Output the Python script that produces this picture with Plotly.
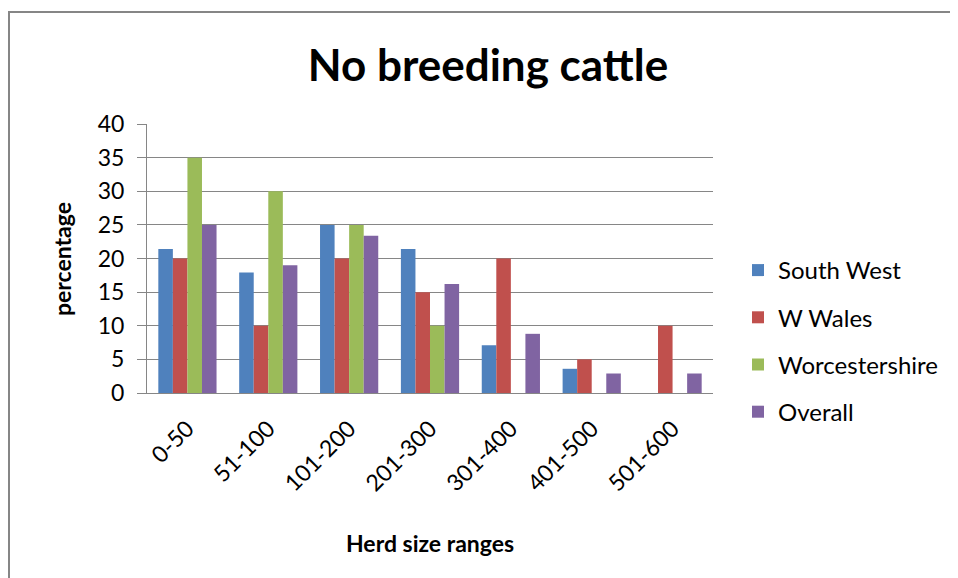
import plotly.graph_objects as go

categories = ["0-50", "51-100", "101-200", "201-300", "301-400", "401-500", "501-600"]
south_west = [21.4, 17.9, 25.0, 21.4, 7.1, 3.6, 0]
w_wales = [20, 10, 20, 15, 20, 5, 10]
worcestershire = [35, 30, 25, 10, 0, 0, 0]
overall = [25, 19, 23.4, 16.2, 8.8, 2.9, 2.9]

series = [
    ("South West", south_west, "#4F81BD"),
    ("W Wales", w_wales, "#C0504D"),
    ("Worcestershire", worcestershire, "#9BBB59"),
    ("Overall", overall, "#8064A2"),
]

FONT = "Lato"
fig = go.Figure()
for i, (name, vals, col) in enumerate(series):
    fig.add_trace(go.Bar(x=categories, y=vals, name=name, marker_color=col,
                         marker_line_width=0, legendgroup=str(i)))

OFF = 8  # page body margin
L, T, W, H = 139, 116, 566, 269
R = 958 - L - W
B = 578 - T - H

def px_x(p):  # page pixel -> paper x
    return (p - OFF - L) / W

def px_y(p):  # page pixel -> paper y
    return (T + H - (p - OFF)) / H

fig.update_layout(
    width=958, height=578,
    margin=dict(l=L, r=R, t=T, b=B),
    paper_bgcolor="white", plot_bgcolor="white",
    barmode="group", bargap=0.28, bargroupgap=0,
    font=dict(family=FONT, color="#000000"),
    showlegend=True,
    legend=dict(x=(730 - L) / W, y=(T + H - 240) / H, xanchor="left", yanchor="top",
                font=dict(size=24, family=FONT), traceorder="grouped",
                tracegroupgap=13, itemwidth=30, bgcolor="rgba(0,0,0,0)"),
    title=dict(text="<b>No breeding cattle</b>", x=(488 - OFF) / 958, xanchor="center",
               y=1 - (66 - OFF) / 578, yanchor="middle", font=dict(size=44, family=FONT)),
    xaxis=dict(showline=True, linecolor="#868686", linewidth=1, tickangle=-45,
               tickfont=dict(size=23, family=FONT), ticks="", showgrid=False,
               ticklabelstandoff=12),
    yaxis=dict(range=[0, 40], dtick=5, showline=True, linecolor="#868686", linewidth=1,
               gridcolor="#868686", gridwidth=1, ticks="outside", ticklen=9,
               tickcolor="#868686", tickfont=dict(size=23, family=FONT), zeroline=False,
               ticklabelstandoff=8),
    annotations=[
        dict(text="<b>Herd size ranges</b>", xref="paper", yref="paper",
             x=px_x(430), y=px_y(543), xanchor="center", yanchor="middle",
             showarrow=False, font=dict(size=23, family=FONT)),
        dict(text="<b>percentage</b>", xref="paper", yref="paper",
             x=px_x(62), y=px_y(259), xanchor="center", yanchor="middle",
             textangle=-90, showarrow=False, font=dict(size=23, family=FONT)),
    ],
    shapes=[
        dict(type="rect", xref="paper", yref="paper",
             x0=(1 - L) / W, x1=(975 - L) / W, y0=(T + H - 600) / H, y1=(T + H - 4) / H,
             line=dict(color="#868686", width=2), layer="below"),
    ],
)

fig.write_html("out.html")
